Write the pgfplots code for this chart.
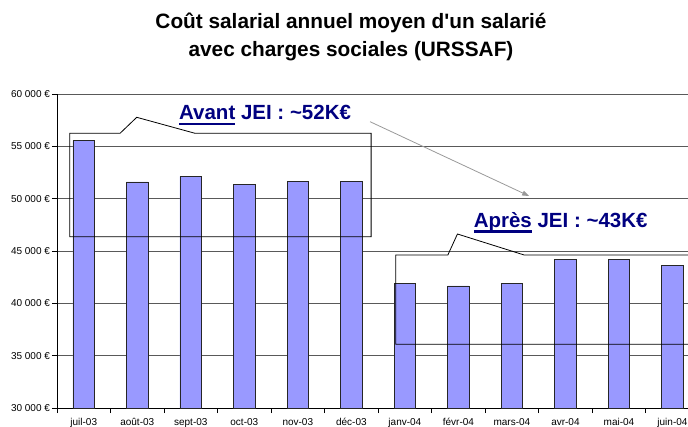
\documentclass[border=0pt]{standalone}
\usepackage{pgfplots}
\pgfplotsset{compat=1.18}
\usepackage{fontspec}
\setmainfont{Liberation Sans}
\usetikzlibrary{arrows.meta}
\definecolor{barfill}{HTML}{9999FF}
\definecolor{navyblue}{HTML}{000080}
\newsavebox\ulbox
\newcommand\ul[1]{\sbox\ulbox{#1}\rlap{\rule[-5.5pt]{\wd\ulbox}{2.2pt}}\usebox\ulbox}
\begin{document}
\begin{tikzpicture}
\path[use as bounding box] (0,0) rectangle (688pt,426pt);
\node[anchor=base, font=\fontsize{20.8}{25}\selectfont\bfseries] at (351pt,397pt) {Coût salarial annuel moyen d\textquotesingle un salarié};
\node[anchor=base, font=\fontsize{20.8}{25}\selectfont\bfseries] at (351pt,369pt) {avec charges sociales (URSSAF)};
\begin{axis}[
  at={(57pt,18pt)}, anchor=south west,
  scale only axis, width=631pt, height=314pt,
  xmin=-0.5, xmax=11.29, ymin=30000, ymax=60000,
  ybar, bar width=0.405,
  axis x line=bottom, axis y line=left,
  axis line style={-, black, line width=0.8pt},
  scaled y ticks=false,
  ytick={30000,35000,40000,45000,50000,55000,60000},
  yticklabels={30 000 €,35 000 €,40 000 €,45 000 €,50 000 €,55 000 €,60 000 €},
  xtick={-0.5,0.5,1.5,2.5,3.5,4.5,5.5,6.5,7.5,8.5,9.5,10.5},
  xticklabels={juil-03,août-03,sept-03,oct-03,nov-03,déc-03,janv-04,févr-04,mars-04,avr-04,mai-04,juin-04},
  tick align=outside,
  major tick length=5pt,
  tick style={black, line width=0.8pt},
  ymajorgrids, xmajorgrids=false,
  grid style={black!65, line width=0.8pt},
  tick label style={font=\fontsize{10}{12}\selectfont},
  yticklabel style={xshift=1.5pt},
  xticklabel style={anchor=base, yshift=-12pt, xshift=26.75pt},
]
\addplot[fill=barfill, draw=black!85, line width=0.8pt] coordinates {
  (0,55550) (1,51600) (2,52130) (3,51400) (4,51650) (5,51650)
  (6,41910) (7,41660) (8,41910) (9,44170) (10,44200) (11,43630)};
\draw[black, line width=0.8pt] (axis cs:-0.263,56245) -- (axis cs:0.678,56245) -- (axis cs:0.990,57773) -- (axis cs:2.079,56245) -- (axis cs:5.369,56245) -- (axis cs:5.369,46366) -- (axis cs:-0.263,46366) -- cycle;
\draw[black, line width=0.8pt] (axis cs:11.6,44618) -- (axis cs:8.229,44618) -- (axis cs:6.982,46624) -- (axis cs:6.803,44618) -- (axis cs:5.831,44618) -- (axis cs:5.831,36086) -- (axis cs:11.6,36086);
\draw[black!40, line width=0.8pt, -{Triangle[length=7pt,width=5pt]}] (axis cs:5.350,57353) -- (axis cs:8.322,50254);
\node[anchor=base, text=navyblue, font=\fontsize{20.5}{24}\selectfont\bfseries] at (axis cs:3.388,57516) {\ul{Avant} JEI : \textasciitilde52K€};
\node[anchor=base, text=navyblue, font=\fontsize{20.5}{24}\selectfont\bfseries] at (axis cs:8.911,47293) {\ul{Après} JEI : \textasciitilde43K€};
\end{axis}
\end{tikzpicture}
\end{document}
